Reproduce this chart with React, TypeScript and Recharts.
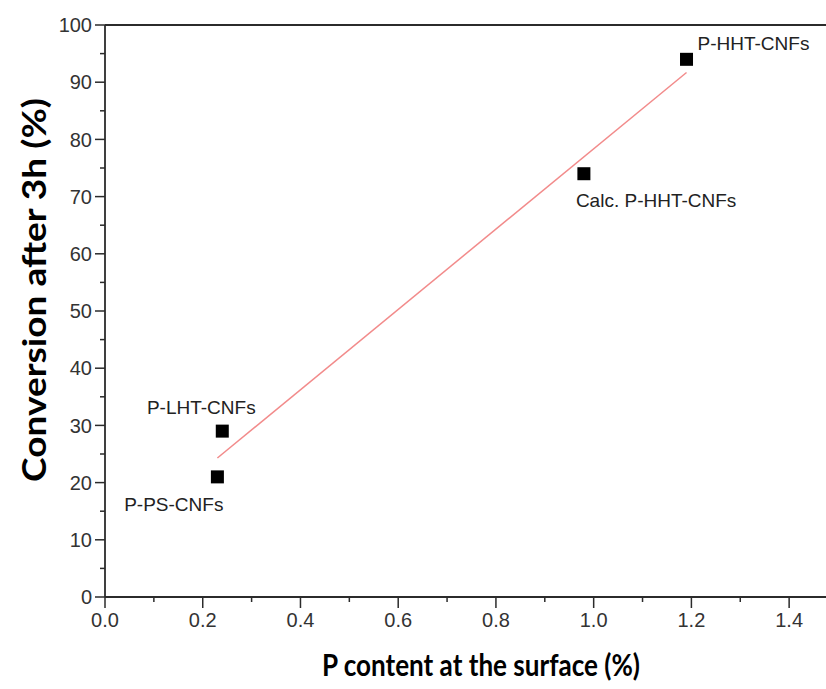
import {
  ComposedChart,
  Scatter,
  Line,
  XAxis,
  YAxis,
  ReferenceLine,
  Label,
} from "recharts";

const sampleNames = ["P-PS-CNFs", "P-LHT-CNFs", "Calc. P-HHT-CNFs", "P-HHT-CNFs"];
const pContent = [0.23, 0.24, 0.98, 1.19];
const conversion = [21, 29, 74, 94];

const fitX = [0.23, 1.19];
const fitY = [24.3, 91.7];

const xTicks = [0, 0.1, 0.2, 0.3, 0.4, 0.5, 0.6, 0.7, 0.8, 0.9, 1.0, 1.1, 1.2, 1.3, 1.4, 1.5];
const yTicks = [0, 5, 10, 15, 20, 25, 30, 35, 40, 45, 50, 55, 60, 65, 70, 75, 80, 85, 90, 95, 100];

const points = sampleNames.map((name, i) => ({ name, x: pContent[i], y: conversion[i] }));
const fitLine = fitX.map((x, i) => ({ x, y: fitY[i] }));

const AXIS = "#2b2b2b";
const TICK_FONT = "'Liberation Sans', Arial, sans-serif";
const TITLE_FONT = "Lato, 'Open Sans', sans-serif";

// where each point's name sits relative to its marker
const labelPlacement: Record<string, { dx: number; dy: number; anchor: "start" | "middle" | "end" }> = {
  "P-HHT-CNFs": { dx: 11, dy: -16, anchor: "start" },
  "Calc. P-HHT-CNFs": { dx: -8, dy: 27, anchor: "start" },
  "P-LHT-CNFs": { dx: -21, dy: -24, anchor: "middle" },
  "P-PS-CNFs": { dx: 6, dy: 27, anchor: "end" },
};

const X_TICK_SIZE = 11;
const X_TICK_MARGIN = 5;
const Y_TICK_SIZE = 10;
const Y_TICK_MARGIN = 3;

function XTick(props: any) {
  const { x, y, payload } = props;
  const v = payload.value as number;
  const major = Math.round(v * 10) % 2 === 0;
  const axisY = y - X_TICK_SIZE - X_TICK_MARGIN;
  return (
    <g>
      <line x1={x} x2={x} y1={axisY} y2={axisY + (major ? 11 : 5)} stroke={AXIS} strokeWidth={1.5} />
      {major && v < 1.45 && (
        <text x={x} y={y} dy="0.71em" textAnchor="middle" fill="#333" fontSize={20} fontFamily={TICK_FONT}>
          {v.toFixed(1)}
        </text>
      )}
    </g>
  );
}

function YTick(props: any) {
  const { x, y, payload } = props;
  const v = payload.value as number;
  const major = v % 10 === 0;
  const axisX = x + Y_TICK_SIZE + Y_TICK_MARGIN;
  return (
    <g>
      <line x1={axisX} x2={axisX - (major ? 10 : 5)} y1={y} y2={y} stroke={AXIS} strokeWidth={1.5} />
      {major && (
        <text x={x} y={y} dy="0.355em" textAnchor="end" fill="#333" fontSize={20} fontFamily={TICK_FONT}>
          {v}
        </text>
      )}
    </g>
  );
}

function SquareMarker(props: any) {
  const { cx, cy, payload } = props;
  const place = labelPlacement[payload.name];
  return (
    <g>
      <rect x={cx - 6.5} y={cy - 6.5} width={13} height={13} fill="#000" />
      <text
        x={cx + place.dx}
        y={cy + place.dy}
        dy="0.355em"
        textAnchor={place.anchor}
        fontSize={19}
        fontFamily={TICK_FONT}
        fill="#222"
      >
        {payload.name}
      </text>
    </g>
  );
}

export default function App() {
  return (
    <div
      style={{
        position: "absolute",
        left: 0,
        top: 0,
        width: 826,
        height: 689,
        overflow: "hidden",
        background: "#fff",
      }}
    >
      <ComposedChart
        width={838}
        height={689}
        margin={{ top: 25, right: 0, bottom: 0, left: 0 }}
      >
        <XAxis
          type="number"
          dataKey="x"
          domain={[0, 1.5]}
          ticks={xTicks}
          interval={0}
          height={92}
          tickSize={X_TICK_SIZE}
          tickMargin={X_TICK_MARGIN}
          tickLine={false}
          tick={<XTick />}
          axisLine={{ stroke: AXIS, strokeWidth: 1.8 }}
          allowDataOverflow
        >
          <Label
            content={() => (
              <text
                x={481}
                y={664}
                textAnchor="middle"
                dominantBaseline="central"
                fontSize={30}
                fontWeight="bold"
                fontFamily={TITLE_FONT}
                textLength={318}
                lengthAdjust="spacingAndGlyphs"
                fill="#000"
              >
                P content at the surface (%)
              </text>
            )}
          />
        </XAxis>
        <YAxis
          type="number"
          dataKey="y"
          domain={[0, 100]}
          ticks={yTicks}
          interval={0}
          width={105}
          tickSize={Y_TICK_SIZE}
          tickMargin={Y_TICK_MARGIN}
          tickLine={false}
          tick={<YTick />}
          axisLine={{ stroke: AXIS, strokeWidth: 1.8 }}
        >
          <Label
            content={() => (
              <text
                x={33}
                y={290}
                transform="rotate(-90 33 290)"
                textAnchor="middle"
                dominantBaseline="central"
                fontSize={32}
                fontWeight="bold"
                fontFamily={TITLE_FONT}
                textLength={384}
                lengthAdjust="spacingAndGlyphs"
                fill="#000"
              >
                Conversion after 3h (%)
              </text>
            )}
          />
        </YAxis>
        <ReferenceLine y={100} stroke={AXIS} strokeWidth={1.8} />
        <Line
          data={fitLine}
          dataKey="y"
          type="linear"
          stroke="#f28b8b"
          strokeWidth={1.5}
          dot={false}
          activeDot={false}
          isAnimationActive={false}
        />
        <Scatter
          data={points}
          dataKey="y"
          shape={<SquareMarker />}
          isAnimationActive={false}
        />
      </ComposedChart>
    </div>
  );
}
